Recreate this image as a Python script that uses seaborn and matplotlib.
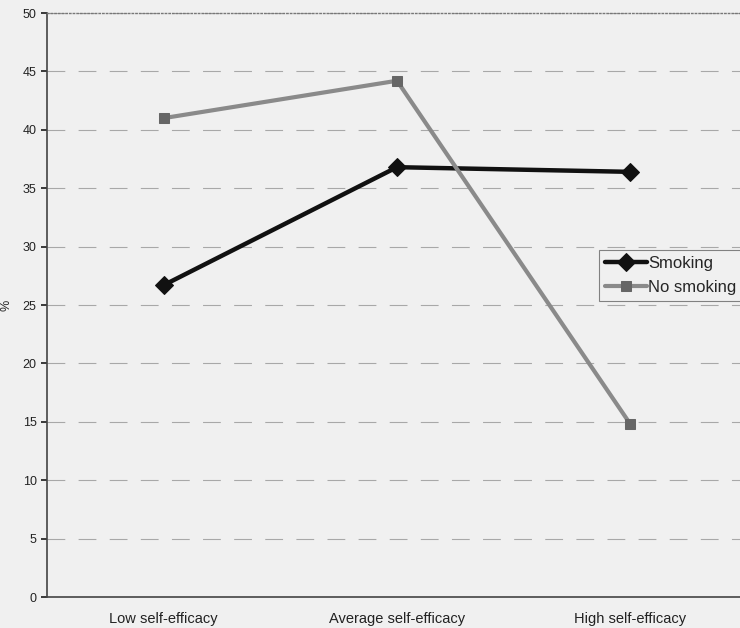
import matplotlib
matplotlib.use("Agg")
import matplotlib.pyplot as plt
import seaborn as sns
import pandas as pd

categories = ["Low self-efficacy", "Average self-efficacy", "High self-efficacy"]
smoking = [26.7, 36.8, 36.4]
no_smoking = [41.0, 44.2, 14.8]

sns.set_theme(style="white")
plt.rcParams["font.family"] = ["Liberation Sans", "DejaVu Sans"]

df = pd.DataFrame({
    "category": categories * 2,
    "value": smoking + no_smoking,
    "group": ["Smoking"] * 3 + ["No smoking"] * 3,
})
df["x"] = [0, 1, 2] * 2

fig = plt.figure(figsize=(7.4, 6.28), dpi=100, facecolor="#f0f0f0")
ax = fig.add_axes([47 / 740, 31 / 628, 700 / 740, 584 / 628])
ax.set_facecolor("#f0f0f0")

sns.lineplot(data=df[df.group == "Smoking"], x="x", y="value", ax=ax,
             color="#111111", lw=3.2, marker="D", markersize=9,
             markeredgecolor="#111111", label="Smoking")
sns.lineplot(data=df[df.group == "No smoking"], x="x", y="value", ax=ax,
             color="#8a8a8a", lw=3, marker="s", markersize=7,
             markerfacecolor="#666666", markeredgecolor="#666666",
             label="No smoking")

ax.set_xlim(-0.5, 2.5)
ax.set_ylim(0, 50)
ax.set_yticks(range(0, 51, 5))
ax.set_xticks([0, 1, 2])
ax.set_xticklabels(categories)
ax.set_xticks([0.5, 1.5], minor=True)
ax.tick_params(axis="x", which="major", length=0, labelsize=10.5, pad=11,
               colors="#222222")
ax.tick_params(axis="x", which="minor", length=4, color="#888888", direction="out")
ax.tick_params(axis="y", length=4, labelsize=9, colors="#222222",
               direction="out", left=True)
ax.set_xlabel("")
ax.set_ylabel("%", fontsize=9, color="#222222")
ax.yaxis.set_label_coords(-0.05, 0.5)

ax.yaxis.grid(True, color="#a8a8a8", lw=0.8, ls=(0, (16, 12)))
ax.set_axisbelow(True)

for side in ["left", "bottom"]:
    ax.spines[side].set_color("#444444")
    ax.spines[side].set_linewidth(1.2)
ax.spines["top"].set_color("#777777")
ax.spines["top"].set_linestyle(":")
ax.spines["top"].set_linewidth(1.0)
ax.spines["right"].set_visible(False)

# legend box anchored at its upper-left corner, in axes coordinates
leg_x = (599 - 47) / 700
leg_y = (597 - 250) / 584
leg = ax.legend(loc="upper left", bbox_to_anchor=(leg_x, leg_y),
                frameon=True, fontsize=12, handlelength=2.5, handletextpad=0.1,
                borderpad=0.35, borderaxespad=0, labelspacing=0.55,
                fancybox=False)
leg.get_frame().set_facecolor("#f0f0f0")
leg.get_frame().set_edgecolor("#666666")
leg.get_frame().set_linewidth(0.8)

fig.savefig("out.png", dpi=100, facecolor=fig.get_facecolor())
